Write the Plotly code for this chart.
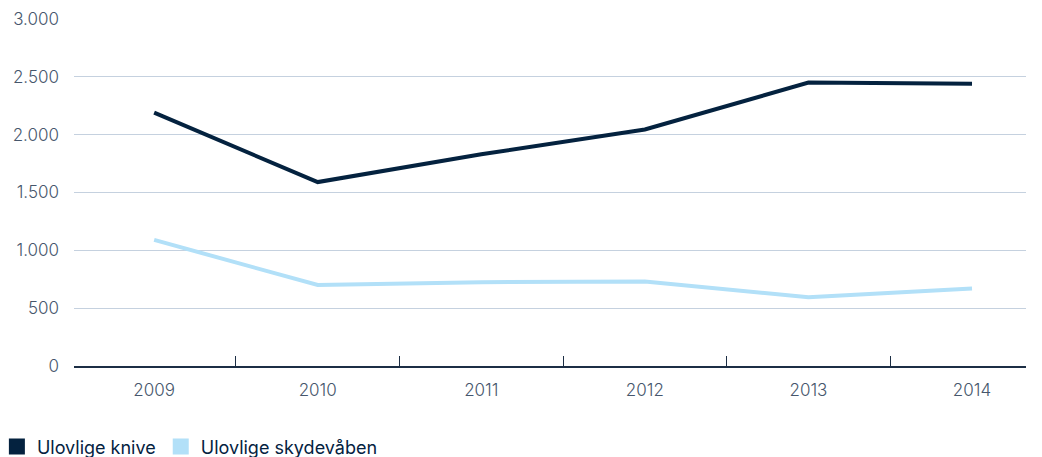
import plotly.graph_objects as go

years = ["2009", "2010", "2011", "2012", "2013", "2014"]
knive = [2190, 1590, 1830, 2045, 2450, 2440]
skydevaaben = [1090, 700, 725, 730, 595, 670]
series_names = ["Ulovlige knive", "Ulovlige skydevåben"]
colors = ["#04223f", "#b2e0f8"]

fig = go.Figure()
for name, vals, col in zip(series_names, [knive, skydevaaben], colors):
    fig.add_trace(go.Scatter(x=years, y=vals, mode="lines", name=name,
                             line=dict(color=col, width=4), showlegend=False))
    fig.add_trace(go.Scatter(x=[None], y=[None], mode="markers", name=name,
                             marker=dict(symbol="square", size=16, color=col)))

fig.update_layout(
    width=1042, height=457,
    margin=dict(l=74, r=16, t=19, b=91, autoexpand=False),
    paper_bgcolor="white", plot_bgcolor="white",
    font=dict(family="Inter, sans-serif", size=17, color="#46566c", weight=300),
    legend=dict(orientation="h", x=-0.081, xanchor="left", y=-0.233, yanchor="middle",
                font=dict(size=18, color="#04223f", weight=400), itemwidth=30, tracegroupgap=0),
    xaxis=dict(type="category", range=[-0.49, 5.33], tickson="boundaries",
               ticks="inside", ticklen=10, tickcolor="#1c2e45", tickwidth=1,
               showline=True, linecolor="#1c2e45", linewidth=1.5, automargin=False,
               showgrid=False, zeroline=False, ticklabelstandoff=8),
    yaxis=dict(range=[0, 3000], dtick=500, tickformat=",d", automargin=False,
               showgrid=True, gridcolor="#c5d1df", gridwidth=1, zeroline=False,
               showline=False, ticks="", ticklabelstandoff=14),
    separators=",.",
)

fig.write_html("out.html", config={"displayModeBar": False},
               post_script="document.body.style.margin='0';")
